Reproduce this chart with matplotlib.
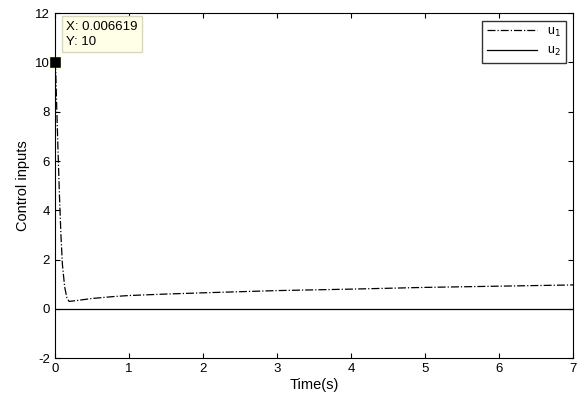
import matplotlib.pyplot as plt

t = [0, 0.0066, 0.02, 0.04, 0.06, 0.08, 0.1, 0.13, 0.16, 0.19, 0.3, 0.5, 0.8, 1, 1.5, 2, 3, 4, 5, 6, 7]
u1 = [10, 10, 8.5, 6.5, 4.6, 3.0, 1.8, 0.9, 0.45, 0.3, 0.34, 0.42, 0.5, 0.54, 0.6, 0.65, 0.74, 0.8, 0.87, 0.92, 0.97]
u2 = [0] * len(t)

plt.rcParams['font.family'] = 'Liberation Sans'
plt.rcParams['axes.unicode_minus'] = False
fig = plt.figure(figsize=(5.79, 4.01), dpi=100)
ax = fig.add_axes([0.095, 0.107, 0.895, 0.86])
ax.plot(t, u1, 'k-.', lw=0.9, label='u$_1$')
ax.plot(t, u2, 'k-', lw=0.9, label='u$_2$')
ax.plot([0.0066], [10], 's', color='k', ms=8, mec='#ffffe0', clip_on=False)
ax.text(0.15, 11.7, 'X: 0.006619\nY: 10', fontsize=9.5, va='top', linespacing=1.4,
        bbox=dict(fc='#ffffe8', ec='#d8d8c0', pad=3))
ax.set_xlim(0, 7)
ax.set_ylim(-2, 12)
ax.set_xticks(range(8))
ax.set_yticks(range(-2, 13, 2))
ax.tick_params(direction='in', top=True, right=True, labelsize=9.5)
ax.set_xlabel('Time(s)', fontsize=10.5, labelpad=2)
ax.set_ylabel('Control inputs', fontsize=10.5)
ax.legend(loc='upper right', fontsize=9, fancybox=False, edgecolor='k',
          handlelength=4, borderaxespad=0.6)
fig.savefig('out.png')
